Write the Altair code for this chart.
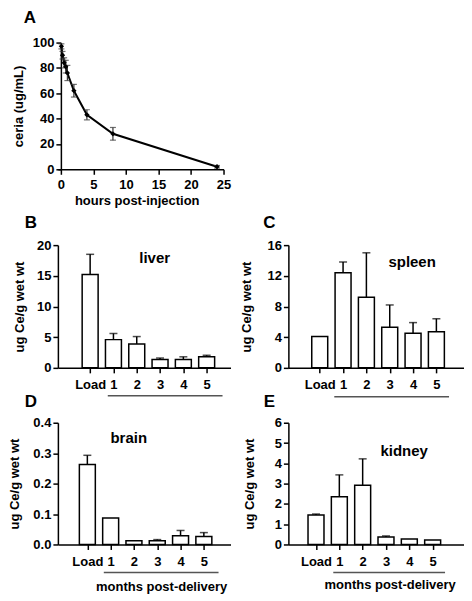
import altair as alt
import pandas as pd

FONT = "Liberation Sans"

# ---------- Panel A data ----------
hours = [0.08, 0.25, 0.5, 0.75, 1, 2, 4, 8, 24]
ceria = [97, 90, 84, 81, 76, 62, 43, 28, 2]
ceria_err = [2, 3, 4, 5, 6, 5, 4, 5, 1]
hour_ticks = [0, 5, 10, 15, 20, 25]
ceria_ticks = [0, 20, 40, 60, 80, 100]

# ---------- Bar panels data ----------
cats = ["Load", "1", "2", "3", "4", "5"]
liver = [15.2, 4.6, 3.9, 1.35, 1.35, 1.8]
liver_err = [3.3, 1.0, 1.2, 0.25, 0.45, 0.25]
spleen = [4.1, 12.4, 9.2, 5.3, 4.5, 4.7]
spleen_err = [0, 1.4, 5.8, 2.9, 1.4, 1.7]
brain = [0.263, 0.087, 0.012, 0.012, 0.029, 0.026]
brain_err = [0.03, 0, 0, 0.004, 0.017, 0.013]
kidney = [1.45, 2.35, 2.92, 0.37, 0.27, 0.22]
kidney_err = [0.05, 1.08, 1.3, 0.05, 0, 0]

liver_ticks = [0, 5, 10, 15, 20]
spleen_ticks = [0, 4, 8, 12, 16]
brain_ticks = [0, 0.1, 0.2, 0.3, 0.4]
kidney_ticks = [0, 1, 2, 3, 4, 5, 6]

Y_TITLE = "ug Ce/g wet wt"
MONTHS = "months post-delivery"

one = pd.DataFrame({"k": [0]})
CAT_EXPR = "[" + ",".join("'%s'" % c for c in cats) + "][datum.value]"


def text_layer(txt, x, y, size, **kw):
    return alt.Chart(pd.DataFrame({"t": [txt]})).mark_text(
        font=FONT, fontWeight="bold", fontSize=size, color="black",
        align="center", baseline="middle", **kw
    ).encode(text="t:N", x=alt.value(x), y=alt.value(y))


# ---------- Panel A ----------
WA, HA = 166, 127
A_SHIFT = 3
dfa = pd.DataFrame({
    "h": hours, "c": ceria,
    "lo": [c - e for c, e in zip(ceria, ceria_err)],
    "hi": [c + e for c, e in zip(ceria, ceria_err)],
})
xa = alt.X("h:Q", scale=alt.Scale(domain=[-0.46, 25], nice=False,
                                  zero=False),
           axis=alt.Axis(values=hour_ticks, tickCount=len(hour_ticks),
                         title="hours post-injection", titleX=79,
                         titlePadding=3, labelPadding=4))
ya = alt.Y("c:Q", scale=alt.Scale(domain=[0, 100], nice=False),
           axis=alt.Axis(values=ceria_ticks, tickCount=len(ceria_ticks),
                         title="ceria (ug/mL)", offset=-A_SHIFT,
                         titlePadding=7, labelPadding=2))
base_a = alt.Chart(dfa)
a_line = base_a.mark_line(color="black", strokeWidth=2).encode(x=xa, y=ya)
a_err = base_a.mark_rule(color="#333", strokeWidth=1.2).encode(
    x="h:Q", y="lo:Q", y2="hi:Q")
a_cap_lo = base_a.mark_tick(orient="horizontal", size=6, thickness=1.2,
                            color="#333").encode(x="h:Q", y="lo:Q")
a_cap_hi = base_a.mark_tick(orient="horizontal", size=6, thickness=1.2,
                            color="#333").encode(x="h:Q", y="hi:Q")
a_pts = base_a.mark_point(filled=True, shape="diamond", size=28,
                          color="black", opacity=1).encode(x="h:Q", y="c:Q")
panel_a = alt.layer(
    a_line, a_err, a_cap_lo, a_cap_hi, a_pts,
    text_layer("A", A_SHIFT - 31, -25, 17),
).properties(width=WA, height=HA)

blank = alt.Chart(one).mark_point(opacity=0).encode(
    x=alt.value(0), y=alt.value(0)).properties(width=10, height=148)


# ---------- bar panels ----------
def bar_panel(values, errs, domain, ticks, fmt, organ, organ_xy, letter,
              letter_xy, xdom, width, height, title_pad,
              underline, months_xy=None):
    df = pd.DataFrame({
        "cat": cats, "pos": list(range(len(cats))), "val": values,
        "err": errs, "top": [v + e for v, e in zip(values, errs)],
    })
    x = alt.X("pos:Q", scale=alt.Scale(domain=xdom, nice=False, zero=False),
              axis=alt.Axis(title=None, values=list(range(len(cats))),
                            tickCount=len(cats), labelExpr=CAT_EXPR,
                            labelPadding=6))
    y = alt.Y("val:Q", scale=alt.Scale(domain=domain, nice=False),
              axis=alt.Axis(values=ticks, tickCount=len(ticks), format=fmt,
                            title=Y_TITLE, titlePadding=title_pad,
                            labelPadding=2))
    bars = alt.Chart(df).mark_bar(fill="white", stroke="black",
                                  strokeWidth=1.5, size=16).encode(x=x, y=y)
    edf = df[df["err"] > 0]
    rules = alt.Chart(edf).mark_rule(color="black", strokeWidth=1.5).encode(
        x="pos:Q", y="val:Q", y2="top:Q")
    caps = alt.Chart(edf).mark_tick(orient="horizontal", size=8,
                                    thickness=1.5, color="black").encode(
        x="pos:Q", y="top:Q")
    uline = alt.Chart(one).mark_rule(color="#555", strokeWidth=1.5).encode(
        x=alt.value(underline[0]), x2=alt.value(underline[1]),
        y=alt.value(height + underline[2]))
    layers = [bars, rules, caps, uline,
              text_layer(organ, organ_xy[0], organ_xy[1], 15),
              text_layer(letter, letter_xy[0], letter_xy[1], 17)]
    if months_xy is not None:
        layers.append(text_layer(MONTHS, months_xy[0],
                                 height + months_xy[1], 13))
    return alt.layer(*layers).properties(width=width, height=height)


panel_b = bar_panel(liver, liver_err, [0, 20], liver_ticks, "d", "liver",
                    (97, 13), "B", (-27, -22), [-1.17, 5.81], 173, 123, 10,
                    (50, 165, 28))
panel_c = bar_panel(spleen, spleen_err, [0, 16], spleen_ticks, "d", "spleen",
                    (124, 17), "C", (-19, -22), [-1.13, 5.97], 176, 123, 14,
                    (46, 161, 29))
panel_d = bar_panel(brain, brain_err, [0, 0.4], brain_ticks, ".1f", "brain",
                    (71, 15), "D", (-27, -21), [-1.05, 5.93], 173, 122, 11,
                    (46, 161, 28), months_xy=(104, 43))
panel_e = bar_panel(kidney, kidney_err, [0, 6], kidney_ticks, "d", "kidney",
                    (116, 28), "E", (-19, -21), [-0.97, 6.13], 176, 122, 18,
                    (45, 157, 28), months_xy=(102, 41))

chart = alt.ConcatChart(
    concat=[panel_a, blank, panel_b, panel_c, panel_d, panel_e],
    columns=2,
    spacing=alt.RowColnumber(row=55, column=58),
    bounds="flush",
    align="each",
).properties(
    padding=0,
    background="white",
).configure_view(
    stroke=None
).configure_axis(
    grid=False,
    labelOverlap=False, labelFlush=False,
    domainColor="black", domainWidth=1.5,
    tickColor="black", tickWidth=1.5, tickSize=5,
    labelFont=FONT, labelFontWeight="bold", labelFontSize=13,
    labelColor="black",
    titleFont=FONT, titleFontWeight="bold", titleFontSize=13,
    titleColor="black",
)

chart.save("out.html", embed_options={"renderer": "svg", "actions": False})
